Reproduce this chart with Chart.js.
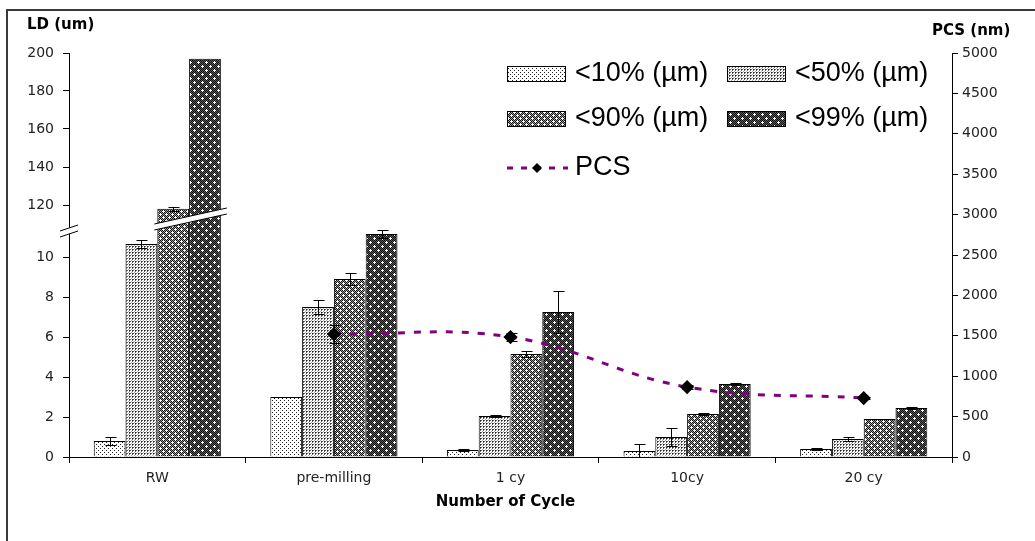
<!DOCTYPE html>
<html>
<head>
<meta charset="utf-8">
<script src="https://cdn.jsdelivr.net/npm/chart.js@4.4.1/dist/chart.umd.min.js"></script>
<style>
  html, body { margin: 0; padding: 0; background: #fff; }
  #wrap { position: relative; width: 1035px; height: 541px; overflow: hidden; }
</style>
</head>
<body>
<div id="wrap"><canvas id="ldChart" width="1035" height="541"></canvas></div>
<script>
// categories and measured values
const cycles = ['RW', 'pre-milling', '1 cy', '10cy', '20 cy'];

const ld10 = [0.8, 3.0, 0.35, 0.3, 0.4];
const ld10Err = [0.2, 0.02, 0.03, 0.35, 0.05];
const ld50 = [10.65, 7.5, 2.05, 1.0, 0.9];
const ld50Err = [0.18, 0.33, 0.03, 0.45, 0.12];
const ld90 = [118, 8.9, 5.15, 2.15, 1.9];
const ld90Err = [1, 0.28, 0.15, 0.03, 0];
const ld99 = [197, 11.15, 7.25, 3.65, 2.45];
const ld99Err = [0, 0.2, 1.05, 0.03, 0.03];

const pcs = [null, 1522, 1485, 866, 730];
const pcsErr = [0, 115, 55, 20, 15];

// left axis labels (broken scale: 0-10 then 120-200)
const ldTicks = [0, 2, 4, 6, 8, 10, 120, 140, 160, 180, 200];

// broken LD axis -> position units on the hidden linear scale
function ldPos(v) {
  if (v <= 60) return v * 20;
  return 252 + (v - 120) * 1.9;
}

const canvas = document.getElementById('ldChart');
const ctx = canvas.getContext('2d');

function makePattern(size, paint) {
  const c = document.createElement('canvas');
  c.width = size; c.height = size;
  const g = c.getContext('2d');
  g.fillStyle = '#fff';
  g.fillRect(0, 0, size, size);
  paint(g);
  return ctx.createPattern(c, 'repeat');
}
function px(g, x, y, col) { g.fillStyle = col; g.fillRect(x, y, 1, 1); }
function plus(g, cx, cy, col) {
  [[0, 0], [1, 0], [-1, 0], [0, 1], [0, -1]].forEach(([dx, dy]) => px(g, cx + dx, cy + dy, col));
}

const pat10 = makePattern(4, g => {
  px(g, 0, 0, '#222'); px(g, 2, 2, '#222');
});
const pat50 = makePattern(3, g => {
  px(g, 0, 0, '#222'); px(g, 1, 0, '#666'); px(g, 0, 1, '#666'); px(g, 2, 2, '#aaa');
});
const pat90 = makePattern(6, g => {
  for (let x = 0; x < 6; x++) for (let y = 0; y < 6; y++)
    px(g, x, y, (x + y) % 2 === 0 ? '#111' : '#9c9c9c');
  plus(g, 1, 1, '#fff'); plus(g, 4, 4, '#fff');
});
const pat99 = makePattern(8, g => {
  for (let x = 0; x < 8; x++) for (let y = 0; y < 8; y++)
    px(g, x, y, (x + y) % 2 === 0 ? '#111' : '#5a5a5a');
  plus(g, 2, 2, '#fff'); plus(g, 6, 6, '#fff');
});

function barSet(label, values, errs, pattern) {
  return {
    type: 'bar',
    label: label,
    data: values.map(ldPos),
    rawValues: values,
    errors: errs,
    mapValue: ldPos,
    backgroundColor: pattern,
    borderColor: '#000',
    borderWidth: 1,
    yAxisID: 'yL',
    order: 1
  };
}

// error bars for bars and the PCS points
const errorBars = {
  id: 'errorBars',
  afterDatasetsDraw(chart) {
    const c = chart.ctx;
    c.save();
    c.strokeStyle = '#000';
    c.lineWidth = 1;
    chart.data.datasets.forEach((ds, i) => {
      if (!ds.errors) return;
      const meta = chart.getDatasetMeta(i);
      const scale = chart.scales[ds.yAxisID];
      meta.data.forEach((el, j) => {
        const v = ds.rawValues[j], e = ds.errors[j];
        if (v == null || !e) return;
        const x = Math.round(el.x) + 0.5;
        const yTop = Math.round(scale.getPixelForValue(ds.mapValue(v + e))) + 0.5;
        const yBot = Math.round(scale.getPixelForValue(ds.mapValue(Math.max(v - e, 0)))) + 0.5;
        c.beginPath();
        c.moveTo(x, yTop); c.lineTo(x, yBot);
        c.moveTo(x - 5, yTop); c.lineTo(x + 6, yTop);
        c.moveTo(x - 5, yBot); c.lineTo(x + 6, yBot);
        c.stroke();
      });
    });
    c.restore();
  }
};

// axis break and the cut through the tall RW bars
const breakMarks = {
  id: 'breakMarks',
  afterDraw(chart) {
    const c = chart.ctx;
    const yl = chart.scales.yL;
    const mid = (yl.getPixelForValue(ldPos(10)) + yl.getPixelForValue(ldPos(120))) / 2;

    function band(x1, y1, x2, y2, half) {
      c.save();
      c.fillStyle = '#fff';
      c.beginPath();
      c.moveTo(x1, y1 - half); c.lineTo(x2, y2 - half);
      c.lineTo(x2, y2 + half); c.lineTo(x1, y1 + half);
      c.closePath();
      c.fill();
      c.strokeStyle = '#000';
      c.lineWidth = 1;
      c.beginPath();
      c.moveTo(x1, y1 - half); c.lineTo(x2, y2 - half);
      c.moveTo(x1, y1 + half); c.lineTo(x2, y2 + half);
      c.stroke();
      c.restore();
    }

    const ax = yl.right;
    band(ax - 9, mid + 3, ax + 9, mid - 3, 3);

    const b90 = chart.getDatasetMeta(3).data[0];
    const b99 = chart.getDatasetMeta(4).data[0];
    const xl = b90.x - b90.width / 2 - 3;
    const xr = b99.x + b99.width / 2 + 6;
    band(xl, mid - 4, xr, mid - 20, 3);
  }
};

// legend block inside the plot area
const legendBlock = {
  id: 'legendBlock',
  afterDraw(chart) {
    const c = chart.ctx;
    c.save();
    const items = [
      { label: '<10% (\u00b5m)', fill: pat10, x: 507, y: 66 },
      { label: '<50% (\u00b5m)', fill: pat50, x: 727, y: 66 },
      { label: '<90% (\u00b5m)', fill: pat90, x: 507, y: 111 },
      { label: '<99% (\u00b5m)', fill: pat99, x: 727, y: 111 }
    ];
    c.font = '27px "Liberation Sans", Arial, sans-serif';
    c.textBaseline = 'middle';
    c.textAlign = 'left';
    items.forEach(it => {
      c.fillStyle = it.fill;
      c.fillRect(it.x, it.y, 59, 16);
      c.strokeStyle = '#000';
      c.lineWidth = 1;
      c.strokeRect(it.x + 0.5, it.y + 0.5, 58, 15);
      c.fillStyle = '#000';
      c.fillText(it.label, it.x + 68, it.y + 8);
    });
    // PCS entry
    const ly = 168;
    c.strokeStyle = '#800080';
    c.lineWidth = 3;
    c.setLineDash([6, 8]);
    c.beginPath();
    c.moveTo(507, ly); c.lineTo(568, ly);
    c.stroke();
    c.setLineDash([]);
    c.fillStyle = '#000';
    c.beginPath();
    c.moveTo(537, ly - 5); c.lineTo(542, ly); c.lineTo(537, ly + 5); c.lineTo(532, ly);
    c.closePath(); c.fill();
    c.fillText('PCS', 575, ly);
    c.restore();
  }
};

// frame and axis titles
const frameTitles = {
  id: 'frameTitles',
  beforeDraw(chart) {
    const c = chart.ctx;
    c.save();
    c.fillStyle = '#fff';
    c.fillRect(0, 0, chart.width, chart.height);
    c.fillStyle = '#3a3a3a';
    c.fillRect(6, 9, chart.width - 6, 2);
    c.fillRect(6, 9, 2, chart.height - 9);
    c.restore();
  },
  afterDraw(chart) {
    const c = chart.ctx;
    const area = chart.chartArea;
    c.save();
    c.fillStyle = '#000';
    c.font = 'bold 15px "DejaVu Sans", sans-serif';
    c.textBaseline = 'middle';
    c.textAlign = 'left';
    c.fillText('LD (um)', 27, 25);
    c.fillText('PCS (nm)', 932, 31);
    c.textAlign = 'center';
    c.fillText('Number of Cycle', (area.left + area.right) / 2 - 5, 502);
    c.restore();
  }
};

const tickFont = { family: 'DejaVu Sans', size: 14 };
const axisGrid = {
  display: true,
  drawOnChartArea: false,
  drawTicks: true,
  tickLength: 6,
  tickColor: '#000',
  tickWidth: 1
};
const axisBorder = { display: true, color: '#000', width: 1 };

new Chart(ctx, {
  data: {
    labels: cycles,
    datasets: [
      {
        type: 'line',
        label: 'PCS',
        data: pcs,
        rawValues: pcs,
        errors: pcsErr,
        mapValue: v => v,
        yAxisID: 'yR',
        borderColor: '#800080',
        borderWidth: 3,
        borderDash: [7, 9],
        tension: 0.4,
        fill: false,
        pointStyle: 'rectRot',
        pointRadius: 5,
        pointBackgroundColor: '#000',
        pointBorderColor: '#000',
        order: 0
      },
      barSet('<10% (\u00b5m)', ld10, ld10Err, pat10),
      barSet('<50% (\u00b5m)', ld50, ld50Err, pat50),
      barSet('<90% (\u00b5m)', ld90, ld90Err, pat90),
      barSet('<99% (\u00b5m)', ld99, ld99Err, pat99)
    ]
  },
  options: {
    responsive: false,
    devicePixelRatio: 1,
    animation: false,
    layout: { padding: { top: 53, left: 0, right: 0, bottom: 0 } },
    datasets: {
      bar: { barPercentage: 1, categoryPercentage: 0.72 }
    },
    plugins: {
      legend: { display: false },
      tooltip: { enabled: false }
    },
    scales: {
      x: {
        type: 'category',
        offset: true,
        grid: Object.assign({}, axisGrid, { offset: true }),
        border: axisBorder,
        ticks: { font: tickFont, color: '#222', padding: 7, maxRotation: 0 },
        afterFit(s) { s.height = 84; }
      },
      yL: {
        type: 'linear',
        position: 'left',
        min: 0,
        max: 404,
        grid: axisGrid,
        border: axisBorder,
        ticks: {
          font: tickFont,
          color: '#222',
          padding: 9,
          callback(value) {
            const i = ldTicks.findIndex(t => Math.abs(ldPos(t) - value) < 0.01);
            return i >= 0 ? String(ldTicks[i]) : '';
          }
        },
        afterBuildTicks(s) { s.ticks = ldTicks.map(t => ({ value: ldPos(t) })); },
        afterFit(s) { s.width = 69; }
      },
      yR: {
        type: 'linear',
        position: 'right',
        min: 0,
        max: 5000,
        grid: axisGrid,
        border: axisBorder,
        ticks: {
          font: tickFont,
          color: '#222',
          padding: 4,
          stepSize: 500,
          callback: value => String(value)
        },
        afterFit(s) { s.width = 83; }
      }
    }
  },
  plugins: [frameTitles, errorBars, breakMarks, legendBlock]
});
</script>
</body>
</html>
